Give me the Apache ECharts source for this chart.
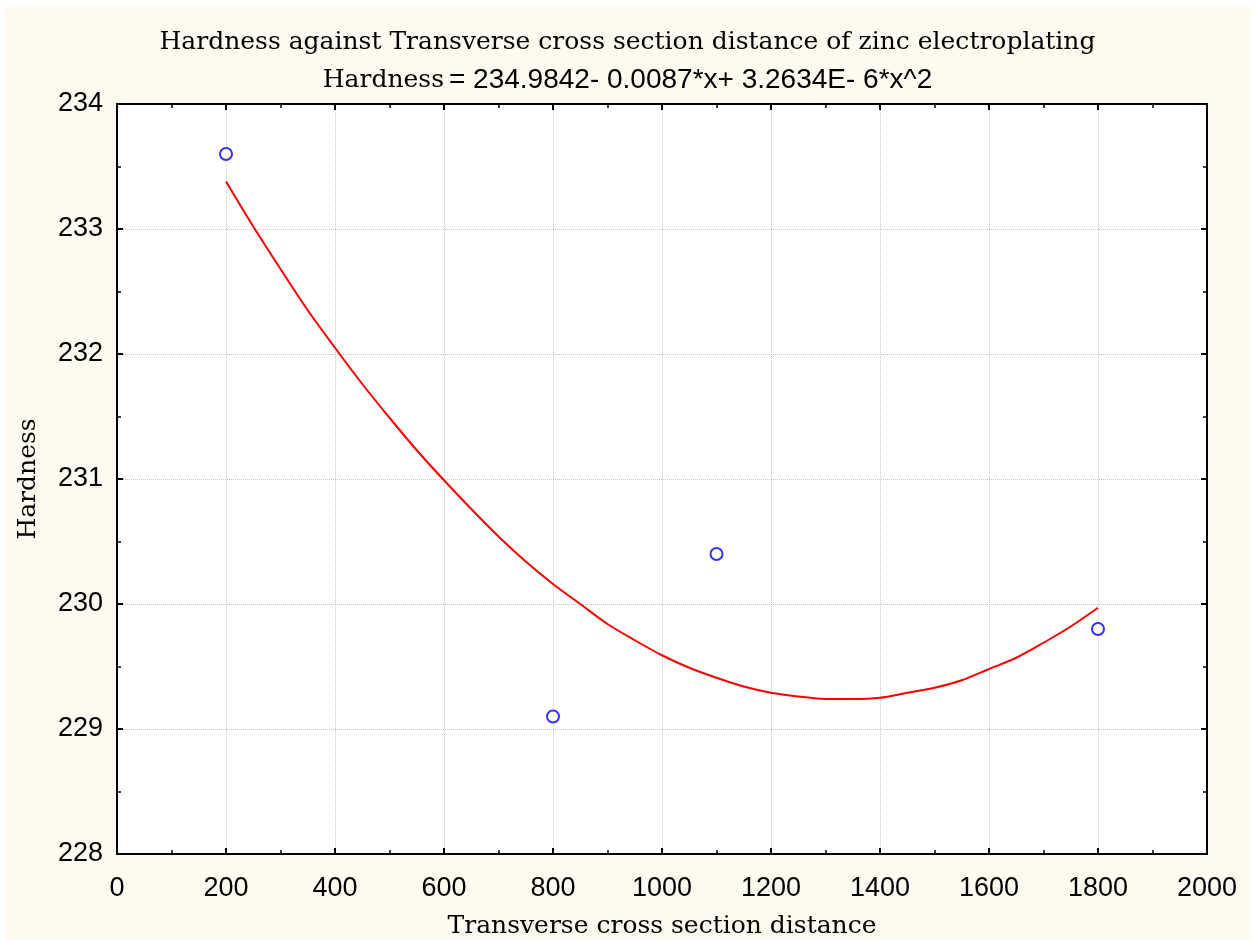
<!DOCTYPE html>
<html>
<head>
<meta charset="utf-8">
<script src="https://cdn.jsdelivr.net/npm/echarts@6/dist/echarts.min.js"></script>
<style>
html,body{margin:0;padding:0;background:#ffffff;width:1254px;height:940px;overflow:hidden;}
#chart{position:absolute;left:5px;top:7px;width:1245px;height:933px;}
</style>
</head>
<body>
<div id="chart"></div>
<script>
// Observed data points
var obsX = [200, 800, 1100, 1800];
var obsY = [233.6, 229.1, 230.4, 229.8];
// Fitted curve
var fitX = [200, 250, 300, 350, 400, 450, 500, 550, 600, 650, 700, 750, 800, 850, 900, 950, 1000,
            1050, 1100, 1150, 1200, 1250, 1300, 1350, 1400, 1450, 1500, 1550, 1600, 1650, 1700, 1750, 1800];
var fitY = [233.38, 233.02, 232.68, 232.35, 232.05, 231.76, 231.49, 231.23, 230.99, 230.76, 230.54, 230.34, 230.16, 230.00, 229.84, 229.71, 229.59,
            229.49, 229.41, 229.34, 229.29, 229.26, 229.24, 229.24, 229.25, 229.29, 229.33, 229.39, 229.48, 229.57, 229.69, 229.82, 229.97];
var xTicks = [0, 200, 400, 600, 800, 1000, 1200, 1400, 1600, 1800, 2000];
var yTicks = [228, 229, 230, 231, 232, 233, 234];

var titleText = 'Hardness against Transverse cross section distance of zinc electroplating';
var eqLabel = 'Hardness';
var eqText = '= 234.9842- 0.0087*x+ 3.2634E- 6*x^2';
var xName = 'Transverse cross section distance';
var yName = 'Hardness';

var obsData = obsX.map(function (x, i) { return [x, obsY[i]]; });
var fitData = fitX.map(function (x, i) { return [x, fitY[i]]; });

var serif = '"DejaVu Serif", serif';
var sans = '"Liberation Sans", Arial, sans-serif';

var chart = echarts.init(document.getElementById('chart'));
var baseAxis = {
  axisLine: { show: true, onZero: false, lineStyle: { color: '#000', width: 2 } },
  axisTick: { show: true, inside: true, length: 6, lineStyle: { color: '#000', width: 2 } },
  minorTick: { show: true, splitNumber: 2, length: 4, lineStyle: { color: '#000', width: 1.5 } },
  minorSplitLine: { show: false }
};
function ax(extra) { return Object.assign({}, JSON.parse(JSON.stringify(baseAxis)), extra); }
function plain(v) { return String(v); }

chart.setOption({
  backgroundColor: '#FFFAF0',
  animation: false,
  title: [
    { text: titleText, left: 'center', top: 18,
      textStyle: { fontFamily: serif, fontSize: 25, fontWeight: 'normal', color: '#000' } },
    { text: '{s|' + eqLabel + '} {e|' + eqText + '}', left: 'center', top: 54,
      textStyle: { fontWeight: 'normal', rich: {
        s: { fontFamily: serif, fontSize: 25, fontWeight: 'normal', color: '#000' },
        e: { fontFamily: sans, fontSize: 28, fontWeight: 'normal', color: '#000' } } } }
  ],
  grid: { left: 112, right: 43, top: 97, bottom: 86, show: true, backgroundColor: '#ffffff', borderWidth: 0,
    containLabel: false, outerBoundsMode: 'none' },
  xAxis: [
    ax({ type: 'value', position: 'bottom', min: xTicks[0], max: xTicks[xTicks.length - 1], interval: 200,
      name: xName, nameLocation: 'middle', nameGap: 60,
      nameTextStyle: { fontFamily: serif, fontSize: 25, color: '#000' },
      axisLabel: { fontFamily: sans, fontSize: 27, color: '#000', margin: 21, formatter: plain },
      splitLine: { show: true, lineStyle: { color: '#c8c8c8', type: 'dotted', width: 1 } } }),
    ax({ type: 'value', position: 'top', min: xTicks[0], max: xTicks[xTicks.length - 1], interval: 200,
      axisLabel: { show: false }, splitLine: { show: false } })
  ],
  yAxis: [
    ax({ type: 'value', position: 'left', min: yTicks[0], max: yTicks[yTicks.length - 1], interval: 1,
      name: yName, nameLocation: 'middle', nameGap: 76, nameRotate: 90,
      nameTextStyle: { fontFamily: serif, fontSize: 25, color: '#000' },
      axisLabel: { fontFamily: sans, fontSize: 27, color: '#000', margin: 14, formatter: plain },
      splitLine: { show: true, lineStyle: { color: '#c8c8c8', type: 'dotted', width: 1 } } }),
    ax({ type: 'value', position: 'right', min: yTicks[0], max: yTicks[yTicks.length - 1], interval: 1,
      axisLabel: { show: false }, splitLine: { show: false } })
  ],
  series: [
    { type: 'line', data: fitData, smooth: 0.3, showSymbol: false, symbol: 'none',
      lineStyle: { color: '#ff0000', width: 2, join: 'round' }, z: 3 },
    { type: 'scatter', data: obsData, symbol: 'circle', symbolSize: 12,
      itemStyle: { color: '#ffffff', borderColor: '#0000ff', borderWidth: 2 }, z: 4 }
  ]
});
</script>
</body>
</html>
